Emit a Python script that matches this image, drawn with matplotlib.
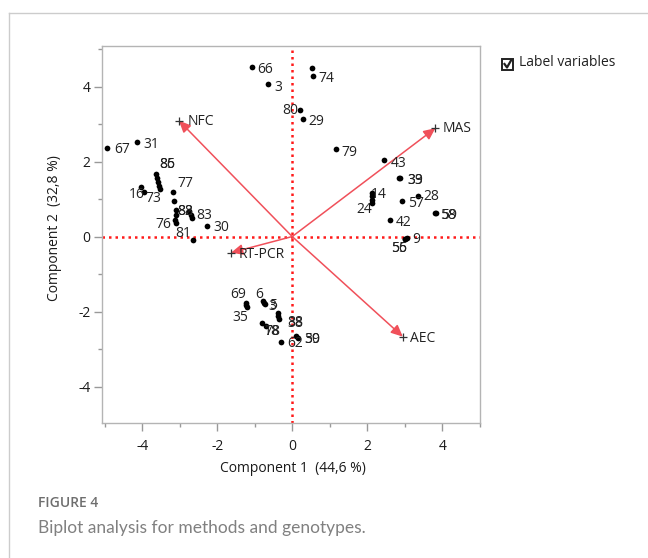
import matplotlib
matplotlib.use("Agg")
import matplotlib.pyplot as plt
from matplotlib.lines import Line2D
from matplotlib.patches import Rectangle
from matplotlib.ticker import MultipleLocator

plt.rcParams['font.family'] = ['Open Sans', 'DejaVu Sans']
plt.rcParams['axes.unicode_minus'] = False

# genotype scores (component 1, component 2) and their labels
gx = [-1.08, -0.64, 0.52, 0.55, 0.22, 0.29, -4.93, -4.15,
      -3.64, -3.60, -3.57, -3.55, -3.53, -4.02, -3.95, -3.18, -3.15,
      -3.09, -3.09, -3.13, -3.10, -2.75, -2.71, -2.67, -2.28, -2.65,
      1.16, 2.45, 2.86, 2.88, 2.12, 2.13, 2.13, 2.12, 2.92, 3.36,
      3.82, 3.84, 2.62, 3.05, 3.02, 3.02,
      -1.24, -1.22, -1.20, -0.78, -0.74, -0.73, -0.37, -0.37, -0.35,
      -0.80, -0.71, -0.31, 0.09, 0.16]
gy = [4.53, 4.06, 4.49, 4.27, 3.38, 3.13, 2.36, 2.53,
      1.67, 1.56, 1.45, 1.36, 1.27, 1.31, 1.18, 1.20, 0.96,
      0.71, 0.58, 0.45, 0.36, 0.67, 0.58, 0.49, 0.29, -0.09,
      2.33, 2.03, 1.56, 1.55, 1.17, 1.07, 0.98, 0.89, 0.96, 1.09,
      0.64, 0.63, 0.43, -0.04, -0.07, -0.07,
      -1.76, -1.82, -1.88, -1.73, -1.78, -1.79, -2.04, -2.11, -2.20,
      -2.31, -2.38, -2.80, -2.65, -2.71]
glab = ['66', '3', '', '74', '80', '29', '67', '31',
        '86', '85', '', '', '', '16', '73', '77', '',
        '82', '88', '76', '', '', '', '83', '30', '81',
        '79', '43', '39', '33', '14', '', '', '24', '57', '28',
        '58', '59', '42', '9', '56', '55',
        '69', '', '35', '6', '5', '3', '', '88', '38',
        '78', '18', '62', '50', '39']

# label placement (pixel offsets from the point, alignment)
lab_off = [(5.6, -2.6, 'left'), (5.7, -3, 'left'), (0, 0, 'left'), (6, -2.3, 'left'),
           (-2, -1, 'right'), (5.7, -2.4, 'left'), (6.7, -1.7, 'left'), (7.3, -2.6, 'left'),
           (4, 9, 'left'), (2.4, 13.3, 'left'), (0, 0, 'left'), (0, 0, 'left'), (0, 0, 'left'),
           (-12.7, -7.3, 'left'), (1, -6.7, 'left'), (4.3, 8.4, 'left'), (0, 0, 'left'),
           (1, -1.7, 'left'), (1, 3.3, 'left'), (-3.3, -5, 'right'), (0, 0, 'left'),
           (0, 0, 'left'), (0, 0, 'left'), (4, 2.6, 'left'), (6.6, -1.7, 'left'), (-2, 6.7, 'right'),
           (6, -3, 'left'), (6.7, -2.6, 'left'), (7.6, -2.7, 'left'), (6.8, -2.2, 'left'),
           (-1.2, -1.6, 'left'), (0, 0, 'left'), (0, 0, 'left'), (0.3, -6.7, 'right'),
           (6.6, -2.6, 'left'), (4.7, -1.3, 'left'),
           (5, -3, 'left'), (4.4, -2.7, 'left'), (5.6, -1.6, 'left'), (5.6, -1.7, 'left'),
           (-14.8, -9.5, 'left'), (-14.8, -9.5, 'left'),
           (-15, 7.7, 'left'), (0, 0, 'left'), (-15.3, -10.7, 'left'), (-8, 6.7, 'left'),
           (4.3, -2.7, 'left'), (4, -2.5, 'left'), (0, 0, 'left'), (9, -7.3, 'left'),
           (8.3, -4, 'left'), (1.7, -8.4, 'left'), (-1.7, -5.7, 'left'), (6.6, -1.6, 'left'),
           (8.3, -4, 'left'), (5.7, -1.7, 'left')]

# method loadings (arrows)
vnames = ['NFC', 'MAS', 'RT-PCR', 'AEC']
vx = [-3.02, 3.82, -1.63, 2.95]
vy = [3.09, 2.89, -0.43, -2.67]
voff = [(8.3, -0.7), (7.3, 0), (7.7, -1.6), (7, -1.6)]

fig = plt.figure(figsize=(6.48, 5.58), dpi=100)
ax = fig.add_axes([101.7 / 648, 1 - 423.3 / 558, 378 / 648, 376.9 / 558])
ax.set_xlim(-5.08, 5.0)
ax.set_ylim(-4.98, 5.07)

# dotted reference lines through the origin
ax.axhline(0, color='#ff1a1a', lw=1.8, ls=(0, (1, 1.6)), zorder=1)
ax.axvline(0, color='#ff1a1a', lw=1.8, ls=(0, (1, 1.6)), zorder=1)

# arrows for the methods
for name, x, y, (dx, dy) in zip(vnames, vx, vy, voff):
    ax.annotate('', xy=(x, y), xytext=(0, 0),
                arrowprops=dict(arrowstyle='-|>,head_length=0.7,head_width=0.32',
                                color='#f0505a', lw=1.1, shrinkA=0, shrinkB=0), zorder=2)
    ax.plot(x, y, marker='+', color='#333333', ms=6, mew=0.9, zorder=3)
    ax.annotate(name, (x, y), xytext=(dx, dy), textcoords='offset pixels',
                ha='left', va='center', fontsize=10, color='#222222', zorder=4)

# genotype points
ax.scatter(gx, gy, s=17, color='black', zorder=5, linewidths=0)
for x, y, lab, (dx, dy, ha) in zip(gx, gy, glab, lab_off):
    if lab:
        ax.annotate(lab, (x, y), xytext=(dx, dy), textcoords='offset pixels',
                    ha=ha, va='center', fontsize=10, color='#222222', zorder=6)

# axes styling
for s in ax.spines.values():
    s.set_color('#b4b4b4')
    s.set_linewidth(1)
ax.xaxis.set_major_locator(MultipleLocator(2))
ax.xaxis.set_minor_locator(MultipleLocator(1))
ax.yaxis.set_major_locator(MultipleLocator(2))
ax.yaxis.set_minor_locator(MultipleLocator(1))
ax.tick_params(which='major', length=6, width=1, color='#999999', labelsize=10,
               labelcolor='#1a1a1a')
ax.tick_params(which='minor', length=3, width=1, color='#999999')
ax.tick_params(axis='x', pad=5)
ax.tick_params(axis='y', pad=2)
fig.canvas.draw()
for t in ax.xaxis.get_major_ticks() + ax.yaxis.get_major_ticks():
    if abs(t.get_loc()) < 1e-9:
        t.tick1line.set_color('#ff1a1a')

fig.text(293 / 648, 1 - 469 / 558, 'Component 1  (44,6 %)', ha='center', va='center',
         fontsize=10, color='#1a1a1a')
fig.text(55 / 648, 1 - 228 / 558, 'Component 2  (32,8 %)', ha='center', va='center',
         rotation=90, fontsize=10, color='#1a1a1a')

# "Label variables" check box
fig.add_artist(Rectangle((502 / 648, 1 - 70 / 558), 11 / 648, 11 / 558, fill=False,
                         ec='#222222', lw=1.4, transform=fig.transFigure))
fig.add_artist(Line2D([504.5 / 648, 507 / 648, 511 / 648], [1 - 64 / 558, 1 - 67.5 / 558, 1 - 60.5 / 558],
                      color='#222222', lw=1.6, transform=fig.transFigure))
fig.text(519 / 648, 1 - 63 / 558, 'Label variables', ha='left', va='center',
         fontsize=10, color='#222222')

# page border and caption
fig.add_artist(Line2D([9 / 648, 1], [1 - 13 / 558, 1 - 13 / 558], color='#cccccc', lw=1,
                      transform=fig.transFigure))
fig.add_artist(Line2D([9 / 648, 9 / 648], [0, 1 - 13 / 558], color='#cccccc', lw=1,
                      transform=fig.transFigure))
fig.text(38 / 648, 1 - 503 / 558, 'FIGURE 4', ha='left', va='center', fontsize=10,
         color='#6e6e6e', fontweight='semibold')
fig.text(38 / 648, 1 - 528 / 558, 'Biplot analysis for methods and genotypes.', ha='left',
         va='center', fontsize=12.5, color='#808080', family=['Lato', 'DejaVu Sans'])

fig.savefig('out.png', dpi=100)
